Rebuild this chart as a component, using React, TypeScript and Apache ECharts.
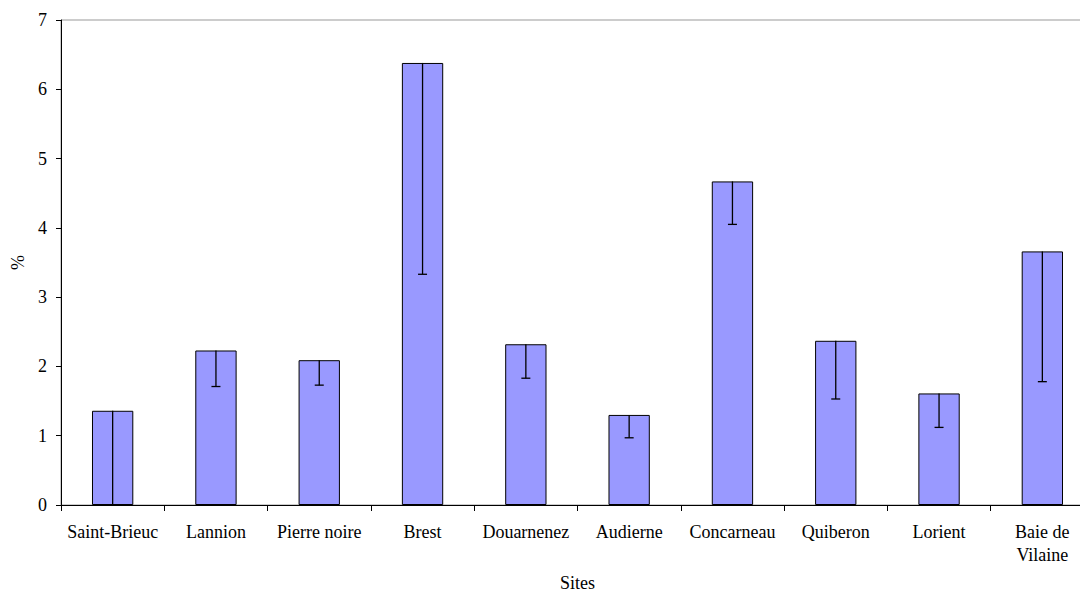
import React, { useEffect, useRef } from "react";
import * as echarts from "echarts";

const categories = [
  "Saint-Brieuc",
  "Lannion",
  "Pierre noire",
  "Brest",
  "Douarnenez",
  "Audierne",
  "Concarneau",
  "Quiberon",
  "Lorient",
  "Baie de\nVilaine",
];
const values = [1.36, 2.23, 2.09, 6.38, 2.32, 1.3, 4.67, 2.37, 1.61, 3.66];
const errorLow = [0, 1.71, 1.73, 3.33, 1.83, 0.97, 4.05, 1.53, 1.12, 1.78];
const yTicks = { min: 0, max: 7, interval: 1 };

const FONT = "Liberation Serif, serif";

export default function App() {
  const ref = useRef<HTMLDivElement>(null);
  useEffect(() => {
    if (!ref.current) return;
    const chart = echarts.init(ref.current, null, { renderer: "svg" });
    chart.setOption({
      animation: false,
      backgroundColor: "#ffffff",
      textStyle: { fontFamily: FONT },
      grid: {
        left: 61,
        top: 20,
        width: 1033,
        height: 485,
        containLabel: false,
        outerBoundsMode: "none",
        show: true,
        borderColor: "#999999",
        borderWidth: 1,
        backgroundColor: "transparent",
      },
      xAxis: {
        type: "category",
        data: categories,
        name: "Sites",
        nameLocation: "middle",
        nameGap: 69,
        nameTextStyle: { fontFamily: FONT, fontSize: 18, color: "#000", lineHeight: 18 },
        axisLine: { show: true, lineStyle: { color: "#000", width: 1 } },
        axisTick: { show: true, length: 6, lineStyle: { color: "#000" } },
        axisLabel: {
          fontFamily: FONT,
          fontSize: 18,
          color: "#000",
          margin: 15,
          lineHeight: 23,
          interval: 0,
        },
        splitLine: { show: false },
      },
      yAxis: {
        type: "value",
        min: yTicks.min,
        max: yTicks.max,
        interval: yTicks.interval,
        name: "%",
        nameLocation: "middle",
        nameGap: 34,
        nameRotate: 90,
        nameTextStyle: { fontFamily: FONT, fontSize: 18, color: "#000" },
        axisLine: { show: true, lineStyle: { color: "#000", width: 1 } },
        axisTick: { show: true, length: 5, lineStyle: { color: "#000" } },
        axisLabel: { fontFamily: FONT, fontSize: 18, color: "#000", margin: 14 },
        splitLine: { show: false },
      },
      series: [
        {
          type: "bar",
          data: values,
          barWidth: "40%",
          itemStyle: { color: "#9999FF", borderColor: "#000", borderWidth: 1 },
        },
        {
          type: "custom",
          data: values.map((v, i) => [i, v, errorLow[i]]),
          z: 10,
          renderItem: (params: any, api: any) => {
            const i = api.value(0);
            const top = api.coord([i, api.value(1)]);
            const low = api.coord([i, api.value(2)]);
            const half = 4.5;
            return {
              type: "group",
              children: [
                {
                  type: "line",
                  shape: { x1: top[0], y1: top[1], x2: low[0], y2: low[1] },
                  style: { stroke: "#000", lineWidth: 1.3 },
                },
                {
                  type: "line",
                  shape: { x1: low[0] - half, y1: low[1], x2: low[0] + half, y2: low[1] },
                  style: { stroke: "#000", lineWidth: 1.3 },
                },
              ],
            };
          },
        },
      ],
    });
    return () => chart.dispose();
  }, []);
  return (
    <div
      ref={ref}
      style={{ position: "fixed", left: 0, top: 0, width: 1080, height: 595 }}
    />
  );
}
